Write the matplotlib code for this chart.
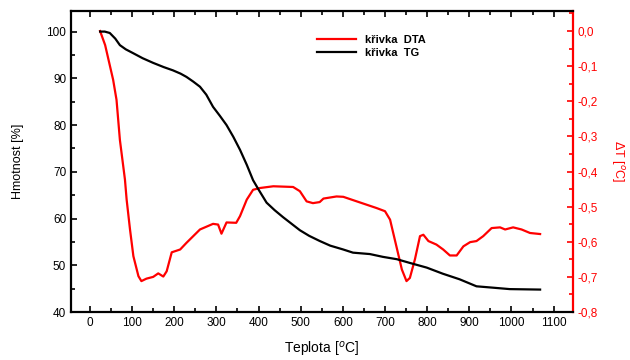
import matplotlib
matplotlib.use("Agg")
import matplotlib.pyplot as plt
from matplotlib.ticker import MultipleLocator, FuncFormatter

plt.rcParams['font.family'] = ['Liberation Sans', 'DejaVu Sans']

# krivka TG (hmotnost %)
tg_t = [24, 35, 47, 60, 71, 85, 102, 125, 150, 175, 197, 215, 229, 245, 261, 276, 292, 308,
        324, 340, 356, 372, 387, 400, 419, 438, 458, 478, 498, 520, 545, 570, 600, 624, 664,
        695, 728, 759, 799, 837, 877, 917, 957, 996, 1068]
tg_m = [100, 100, 99.7, 98.5, 97.1, 96.2, 95.4, 94.3, 93.3, 92.4, 91.7, 91.0, 90.3, 89.3,
        88.2, 86.5, 83.9, 82.0, 80, 77.5, 74.7, 71.5, 68.2, 66.2, 63.4, 61.8, 60.3, 58.9,
        57.5, 56.3, 55.2, 54.2, 53.4, 52.7, 52.4, 51.8, 51.3, 50.5, 49.5, 48.2, 47, 45.5,
        45.2, 44.9, 44.8]

# krivka DTA (delta T)
dta_t = [24, 36, 55, 63, 71, 83, 87, 95, 103, 115, 122, 134, 150, 162, 174, 182, 194,
         214, 229, 261, 292, 304, 312, 324, 347, 356, 372, 387, 403, 435, 482, 498, 514,
         529, 545, 554, 585, 601, 633, 680, 700, 712, 727, 740, 751, 759, 771, 783, 791,
         803, 822, 838, 854, 870, 886, 902, 917, 933, 953, 973, 985, 1004, 1024, 1044, 1068]
dta_v = [0, -0.04, -0.139, -0.196, -0.31, -0.423, -0.48, -0.565, -0.641, -0.698, -0.712,
         -0.705, -0.70, -0.69, -0.699, -0.684, -0.63, -0.622, -0.603, -0.565, -0.549,
         -0.551, -0.577, -0.545, -0.546, -0.527, -0.48, -0.452, -0.447, -0.442, -0.444,
         -0.456, -0.485, -0.49, -0.487, -0.477, -0.471, -0.472, -0.485, -0.504, -0.513,
         -0.537, -0.613, -0.679, -0.712, -0.703, -0.65, -0.584, -0.58, -0.598, -0.608,
         -0.622, -0.639, -0.639, -0.613, -0.601, -0.598, -0.584, -0.561, -0.559, -0.565,
         -0.559, -0.565, -0.575, -0.578]

fig = plt.figure(figsize=(6.3, 3.6), dpi=100)
ax1 = fig.add_axes([0.1127, 0.1333, 0.7968, 0.8361])
ax2 = ax1.twinx()

ax2.plot(dta_t, dta_v, color='red', lw=1.6)
ax1.plot(tg_t, tg_m, color='black', lw=1.6)
ax1.set_zorder(ax2.get_zorder() + 1)
ax1.patch.set_visible(False)

ax1.set_xlim(-45, 1146)
ax1.set_ylim(40, 104.4)
ax2.set_ylim(-0.8, 0.057)

ax1.xaxis.set_major_locator(MultipleLocator(100))
ax1.xaxis.set_minor_locator(MultipleLocator(50))
ax1.yaxis.set_major_locator(MultipleLocator(10))
ax1.yaxis.set_minor_locator(MultipleLocator(5))
ax2.yaxis.set_major_locator(MultipleLocator(0.1))
ax2.yaxis.set_minor_locator(MultipleLocator(0.05))
ax2.yaxis.set_major_formatter(FuncFormatter(lambda v, p: ('%.1f' % v).replace('.', ',').replace('-0,0', '0,0')))

ax1.tick_params(which='both', direction='in', top=True, labelsize=8.5, width=1.2)
ax1.tick_params(which='major', length=4)
ax1.tick_params(which='minor', length=3)
ax2.tick_params(which='both', direction='in', colors='red', labelsize=8.5, width=1.2)
ax2.tick_params(which='major', length=4)
ax2.tick_params(which='minor', length=3)

for s in ['left', 'bottom', 'top']:
    ax1.spines[s].set_linewidth(1.6)
ax1.spines['right'].set_visible(False)
ax2.spines['right'].set_color('red')
ax2.spines['right'].set_linewidth(1.6)
for s in ['left', 'bottom', 'top']:
    ax2.spines[s].set_visible(False)

ax1.set_xlabel('Teplota [$^{o}$C]', fontsize=10, labelpad=8)
ax1.set_ylabel('Hmotnost [%]', fontsize=9, labelpad=16)
ax2.set_ylabel('ΔT [$^{o}$C]', fontsize=9, color='red', rotation=-90, labelpad=20)

# legenda
ax1.plot([], [], color='red', lw=1.6, label='křivka  DTA')
ax1.plot([], [], color='black', lw=1.6, label='křivka  TG')
ax1.legend(loc='upper left', bbox_to_anchor=(0.47, 0.955), frameon=False,
           prop={'weight': 'bold', 'size': 8}, handlelength=3.5, labelspacing=0.3)

fig.savefig('out.png', dpi=100)
